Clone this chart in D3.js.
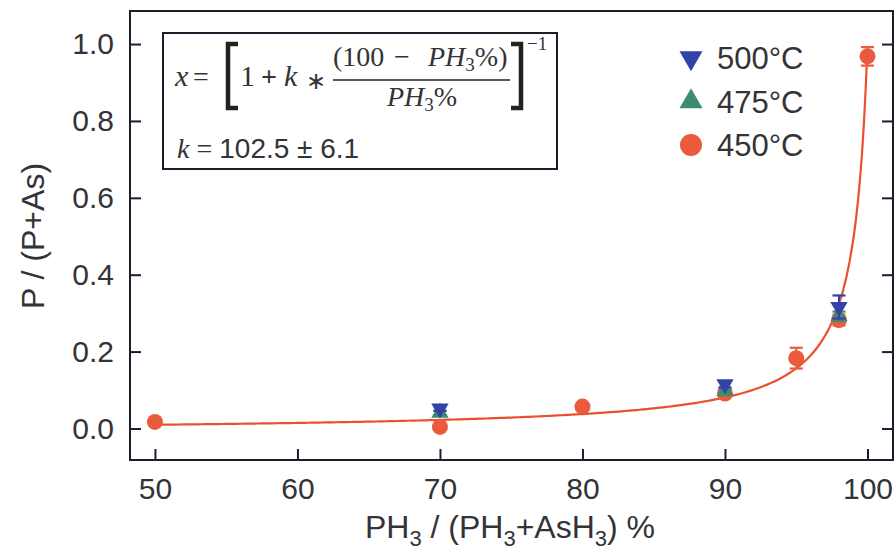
<!DOCTYPE html>
<html>
<head>
<meta charset="utf-8">
<script src="https://cdn.jsdelivr.net/npm/d3@7"></script>
<style>
  html, body { margin: 0; padding: 0; background: #fff; }
  svg { display: block; }
</style>
</head>
<body>
<svg id="chart" width="896" height="552"></svg>
<script>
// PH3 fraction in the gas phase (%) and P/(P+As) in the solid
const pct500 = [70, 90, 98];
const val500 = [0.052, 0.115, 0.316];
const err500 = [0.006, 0.008, 0.030];

const pct475 = [70, 90, 98];
const val475 = [0.041, 0.097, 0.292];
const err475 = [0.005, 0.006, 0.012];

const pct450 = [50, 70, 80, 90, 95, 98, 100];
const val450 = [0.017, 0.004, 0.057, 0.091, 0.183, 0.282, 0.968];
const err450 = [0.000, 0.000, 0.004, 0.005, 0.027, 0.014, 0.024];

const xTicks = [50, 60, 70, 80, 90, 100];
const yTicks = [0.0, 0.2, 0.4, 0.6, 0.8, 1.0];
const legendLabels = ["500°C", "475°C", "450°C"];

// fitted constant of x = [1 + k (100 - PH3%)/PH3%]^-1
const kFit = 102.5;

const colors = { s500: "#3442a6", s475: "#3d8c72", s450: "#ea5a3d", fit: "#ea5030" };
const axisColor = "#1d1d2b";
const textColor = "#333338";

const svg = d3.select("#chart");
const frame = { left: 130, right: 893, top: 11, bottom: 460 };

const x = d3.scaleLinear().domain([48.25, 101.79]).range([frame.left, frame.right]);
const y = d3.scaleLinear().domain([-0.082, 1.086]).range([frame.bottom, frame.top]);

const sans = "Liberation Sans, Arial, Helvetica, sans-serif";
const serif = "Liberation Serif, Times New Roman, serif";

// fit curve
const fitX = d3.range(50, 99, 0.25).concat(d3.range(99, 99.965, 0.005), [99.965]);
const fitData = fitX.map(p => [p, 1 / (1 + kFit * (100 - p) / p)]);
svg.append("path")
  .datum(fitData)
  .attr("fill", "none")
  .attr("stroke", colors.fit)
  .attr("stroke-width", 2.2)
  .attr("d", d3.line().x(d => x(d[0])).y(d => y(d[1])));

// marker shapes
const circleSym = d3.symbol(d3.symbolCircle, Math.PI * 8 * 8);
const triSym = d3.symbol(d3.symbolTriangle, 130);

// one temperature series: error bars then markers
function drawSeries(pcts, vals, errs, color, shape, flip) {
  const g = svg.append("g");
  const data = pcts.map((p, i) => ({ p, v: vals[i], e: errs[i] }));
  const capW = 6.5;
  data.filter(d => d.e > 0).forEach(d => {
    const cx = x(d.p), y1 = y(d.v + d.e), y2 = y(d.v - d.e);
    g.append("line").attr("x1", cx).attr("x2", cx).attr("y1", y1).attr("y2", y2)
      .attr("stroke", color).attr("stroke-width", 2);
    [y1, y2].forEach(yy => g.append("line")
      .attr("x1", cx - capW).attr("x2", cx + capW).attr("y1", yy).attr("y2", yy)
      .attr("stroke", color).attr("stroke-width", 2.2));
  });
  g.selectAll("path.mk").data(data).join("path")
    .attr("class", "mk")
    .attr("fill", color)
    .attr("d", shape)
    .attr("transform", d => `translate(${x(d.p)},${y(d.v)})${flip ? " rotate(180)" : ""}`);
}

drawSeries(pct450, val450, err450, colors.s450, circleSym, false);
drawSeries(pct475, val475, err475, colors.s475, triSym, false);
drawSeries(pct500, val500, err500, colors.s500, triSym, true);

// frame and ticks
svg.append("rect")
  .attr("x", frame.left).attr("y", frame.top)
  .attr("width", frame.right - frame.left).attr("height", frame.bottom - frame.top)
  .attr("fill", "none").attr("stroke", axisColor).attr("stroke-width", 2);

const tickLen = 11;
const axisBottom = d3.axisBottom(x).tickValues(xTicks).tickSizeInner(-tickLen).tickSizeOuter(0).tickPadding(18).tickFormat(d3.format("d"));
const gx = svg.append("g").attr("transform", `translate(0,${frame.bottom})`).call(axisBottom);
gx.select(".domain").remove();
gx.selectAll(".tick line").attr("stroke", axisColor).attr("stroke-width", 2);
gx.selectAll(".tick text").attr("fill", textColor).attr("font-family", sans).attr("font-size", 30).attr("dy", "0.71em");

const axisLeft = d3.axisLeft(y).tickValues(yTicks).tickSizeInner(-tickLen).tickSizeOuter(0).tickPadding(16).tickFormat(d3.format(".1f"));
const gy = svg.append("g").attr("transform", `translate(${frame.left},0)`).call(axisLeft);
gy.select(".domain").remove();
gy.selectAll(".tick line").attr("stroke", axisColor).attr("stroke-width", 2);
gy.selectAll(".tick text").attr("fill", textColor).attr("font-family", sans).attr("font-size", 30);

const axisRight = d3.axisRight(y).tickValues(yTicks).tickSizeInner(-tickLen).tickSizeOuter(0).tickFormat("");
const gr = svg.append("g").attr("transform", `translate(${frame.right},0)`).call(axisRight);
gr.select(".domain").remove();
gr.selectAll(".tick line").attr("stroke", axisColor).attr("stroke-width", 2);

// axis titles
const xt = svg.append("text")
  .attr("x", 510).attr("y", 538)
  .attr("text-anchor", "middle")
  .attr("fill", textColor).attr("font-family", sans).attr("font-size", 32);
xt.append("tspan").text("PH");
xt.append("tspan").attr("font-size", 22).attr("dy", 8).text("3");
xt.append("tspan").attr("dy", -8).text(" / (PH");
xt.append("tspan").attr("font-size", 22).attr("dy", 8).text("3");
xt.append("tspan").attr("dy", -8).text("+AsH");
xt.append("tspan").attr("font-size", 22).attr("dy", 8).text("3");
xt.append("tspan").attr("dy", -8).text(") %");

svg.append("text")
  .attr("transform", "translate(44,236) rotate(-90)")
  .attr("text-anchor", "middle")
  .attr("fill", textColor).attr("font-family", sans).attr("font-size", 32)
  .text("P / (P+As)");

// legend
const legend = svg.append("g");
const legendRows = [
  { label: legendLabels[0], color: colors.s500, shape: "down" },
  { label: legendLabels[1], color: colors.s475, shape: "up" },
  { label: legendLabels[2], color: colors.s450, shape: "circle" }
];
const legendTri = d3.symbol(d3.symbolTriangle, 230);
const legendCircle = d3.symbol(d3.symbolCircle, Math.PI * 11 * 11);
legendRows.forEach((r, i) => {
  const cy = 58 + i * 43.5;
  legend.append("path")
    .attr("fill", r.color)
    .attr("d", r.shape === "circle" ? legendCircle : legendTri)
    .attr("transform", `translate(691,${cy})${r.shape === "down" ? " rotate(180)" : ""}`);
  legend.append("text")
    .attr("x", 717).attr("y", cy).attr("dy", "0.36em")
    .attr("fill", textColor).attr("font-family", sans).attr("font-size", 31)
    .text(r.label);
});

// equation box
const eq = svg.append("g");
eq.append("rect")
  .attr("x", 163).attr("y", 33).attr("width", 394).attr("height", 136)
  .attr("fill", "#fff").attr("stroke", axisColor).attr("stroke-width", 2);

function t(xp, yp, str, opts = {}) {
  return eq.append("text")
    .attr("x", xp).attr("y", yp)
    .attr("fill", textColor)
    .attr("font-family", opts.family || serif)
    .attr("font-size", opts.size || 28)
    .attr("font-style", opts.italic ? "italic" : "normal")
    .attr("font-weight", opts.weight || "normal")
    .attr("text-anchor", opts.anchor || "start")
    .text(str);
}
t(175, 86, "x", { italic: true, size: 30 });
t(193, 86, "=", { size: 28 });
// brackets
eq.append("path").attr("d", "M238,44 H228 V108 H238").attr("fill", "none").attr("stroke", "#222").attr("stroke-width", 4.5);
eq.append("path").attr("d", "M511,44 H521 V108 H511").attr("fill", "none").attr("stroke", "#222").attr("stroke-width", 4.5);
t(240, 86, "1", { size: 30 });
t(261, 86, "+", { size: 28, weight: "bold" });
t(284, 86, "k", { italic: true, size: 30 });
t(306, 89, "∗", { size: 24 });
// fraction
t(333, 66, "(100", { size: 28 });
t(394, 66, "−", { size: 28 });
const num = t(428, 66, "PH", { italic: true, size: 28 });
num.append("tspan").attr("font-style", "normal").attr("font-size", 19).attr("dy", 5).text("3");
num.append("tspan").attr("font-style", "normal").attr("dy", -5).text("%)");
eq.append("line").attr("x1", 333).attr("x2", 510).attr("y1", 80).attr("y2", 80).attr("stroke", "#222").attr("stroke-width", 1.4);
const den = t(387, 106, "PH", { italic: true, size: 28 });
den.append("tspan").attr("font-style", "normal").attr("font-size", 19).attr("dy", 5).text("3");
den.append("tspan").attr("font-style", "normal").attr("dy", -5).text("%");
t(527, 50, "−1", { size: 19 });

// fitted constant
const kt = t(177, 158, "k", { italic: true, size: 28 });
kt.append("tspan").attr("font-style", "normal").text(" = ");
kt.append("tspan").attr("font-style", "normal").attr("font-family", sans).text("102.5 ± 6.1");
</script>
</body>
</html>
